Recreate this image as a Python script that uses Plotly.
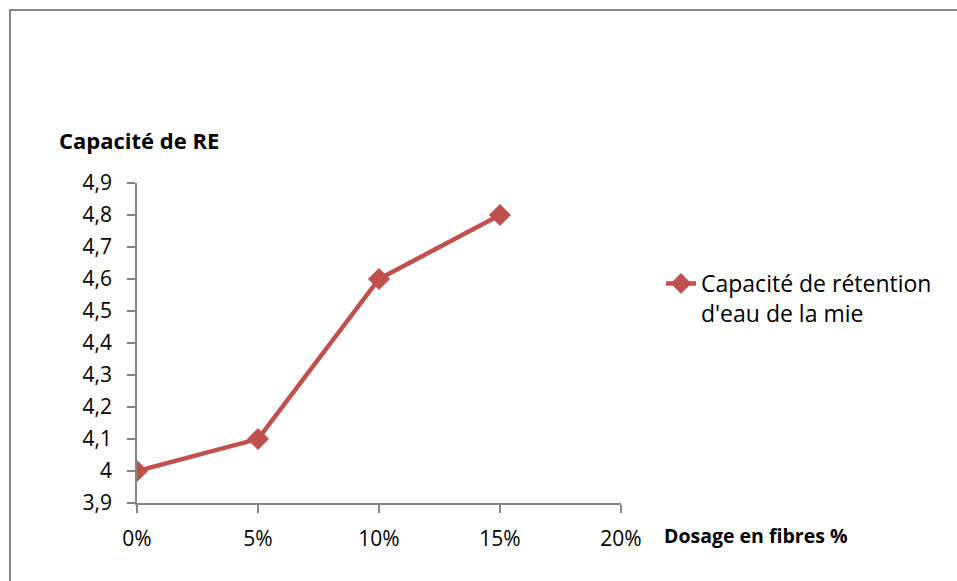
import plotly.graph_objects as go

dosage = [0, 5, 10, 15]
capacite = [4.0, 4.1, 4.6, 4.8]
series_name = "Capacité de rétention<br>d'eau de la mie"
x_tickvals = [0, 5, 10, 15, 20]
x_ticktext = ["0%", "5%", "10%", "15%", "20%"]
y_tickvals = [3.9, 4.0, 4.1, 4.2, 4.3, 4.4, 4.5, 4.6, 4.7, 4.8, 4.9]
y_ticktext = ["3,9", "4", "4,1", "4,2", "4,3", "4,4", "4,5", "4,6", "4,7", "4,8", "4,9"]
y_title = "Capacité de RE"
x_title = "Dosage en fibres %"

W, H = 957, 581
L, R, T, B = 137, 621, 183, 503
pw, ph = R - L, B - T

def px(x):
    return (x - L) / pw

def py(y):
    return (B - y) / ph

font_family = "Open Sans, Liberation Sans, sans-serif"
red = "#C0504D"
axis_col = "#868686"

fig = go.Figure()
fig.add_trace(go.Scatter(
    x=dosage, y=capacite, mode="lines+markers", name=series_name,
    line=dict(color=red, width=4.5),
    marker=dict(symbol="diamond", size=17, color=red),
))

fig.update_layout(
    width=W, height=H,
    margin=dict(l=L, r=W - R, t=T, b=H - B, autoexpand=False),
    paper_bgcolor="white", plot_bgcolor="white",
    font=dict(family=font_family, size=21, color="#000000"),
    showlegend=True,
    legend=dict(x=px(661), y=py(262), xanchor="left", yanchor="top",
                valign="top", font=dict(size=23), bgcolor="rgba(0,0,0,0)",
                itemwidth=30),
    xaxis=dict(range=[0, 20], tickvals=x_tickvals, ticktext=x_ticktext,
               showgrid=False, zeroline=False, showline=True,
               linecolor=axis_col, linewidth=1.5, ticks="outside",
               ticklen=8, tickcolor=axis_col, tickwidth=1.5,
               tickfont=dict(size=21),
               ticklabelstandoff=8, fixedrange=True),
    yaxis=dict(range=[3.9, 4.9], tickvals=y_tickvals, ticktext=y_ticktext,
               showgrid=False, zeroline=False, showline=True,
               linecolor=axis_col, linewidth=1.5, ticks="outside",
               ticklen=8, tickcolor=axis_col, tickwidth=1.5,
               tickfont=dict(size=21),
               ticklabelstandoff=11, fixedrange=True),
    shapes=[dict(type="rect", xref="paper", yref="paper",
                 x0=px(10), x1=px(975), y0=py(600), y1=py(10),
                 line=dict(color="#878787", width=2), fillcolor="rgba(0,0,0,0)",
                 layer="below")],
    annotations=[
        dict(text="<b>" + y_title + "</b>", xref="paper", yref="paper",
             x=px(57), y=py(140), xanchor="left", yanchor="middle",
             showarrow=False, font=dict(size=22)),
        dict(text="<b>" + x_title + "</b>", xref="paper", yref="paper",
             x=px(662), y=py(535), xanchor="left", yanchor="middle",
             showarrow=False, font=dict(size=19.5)),
    ],
)

fig.write_html("out.html", config={"displayModeBar": False})
